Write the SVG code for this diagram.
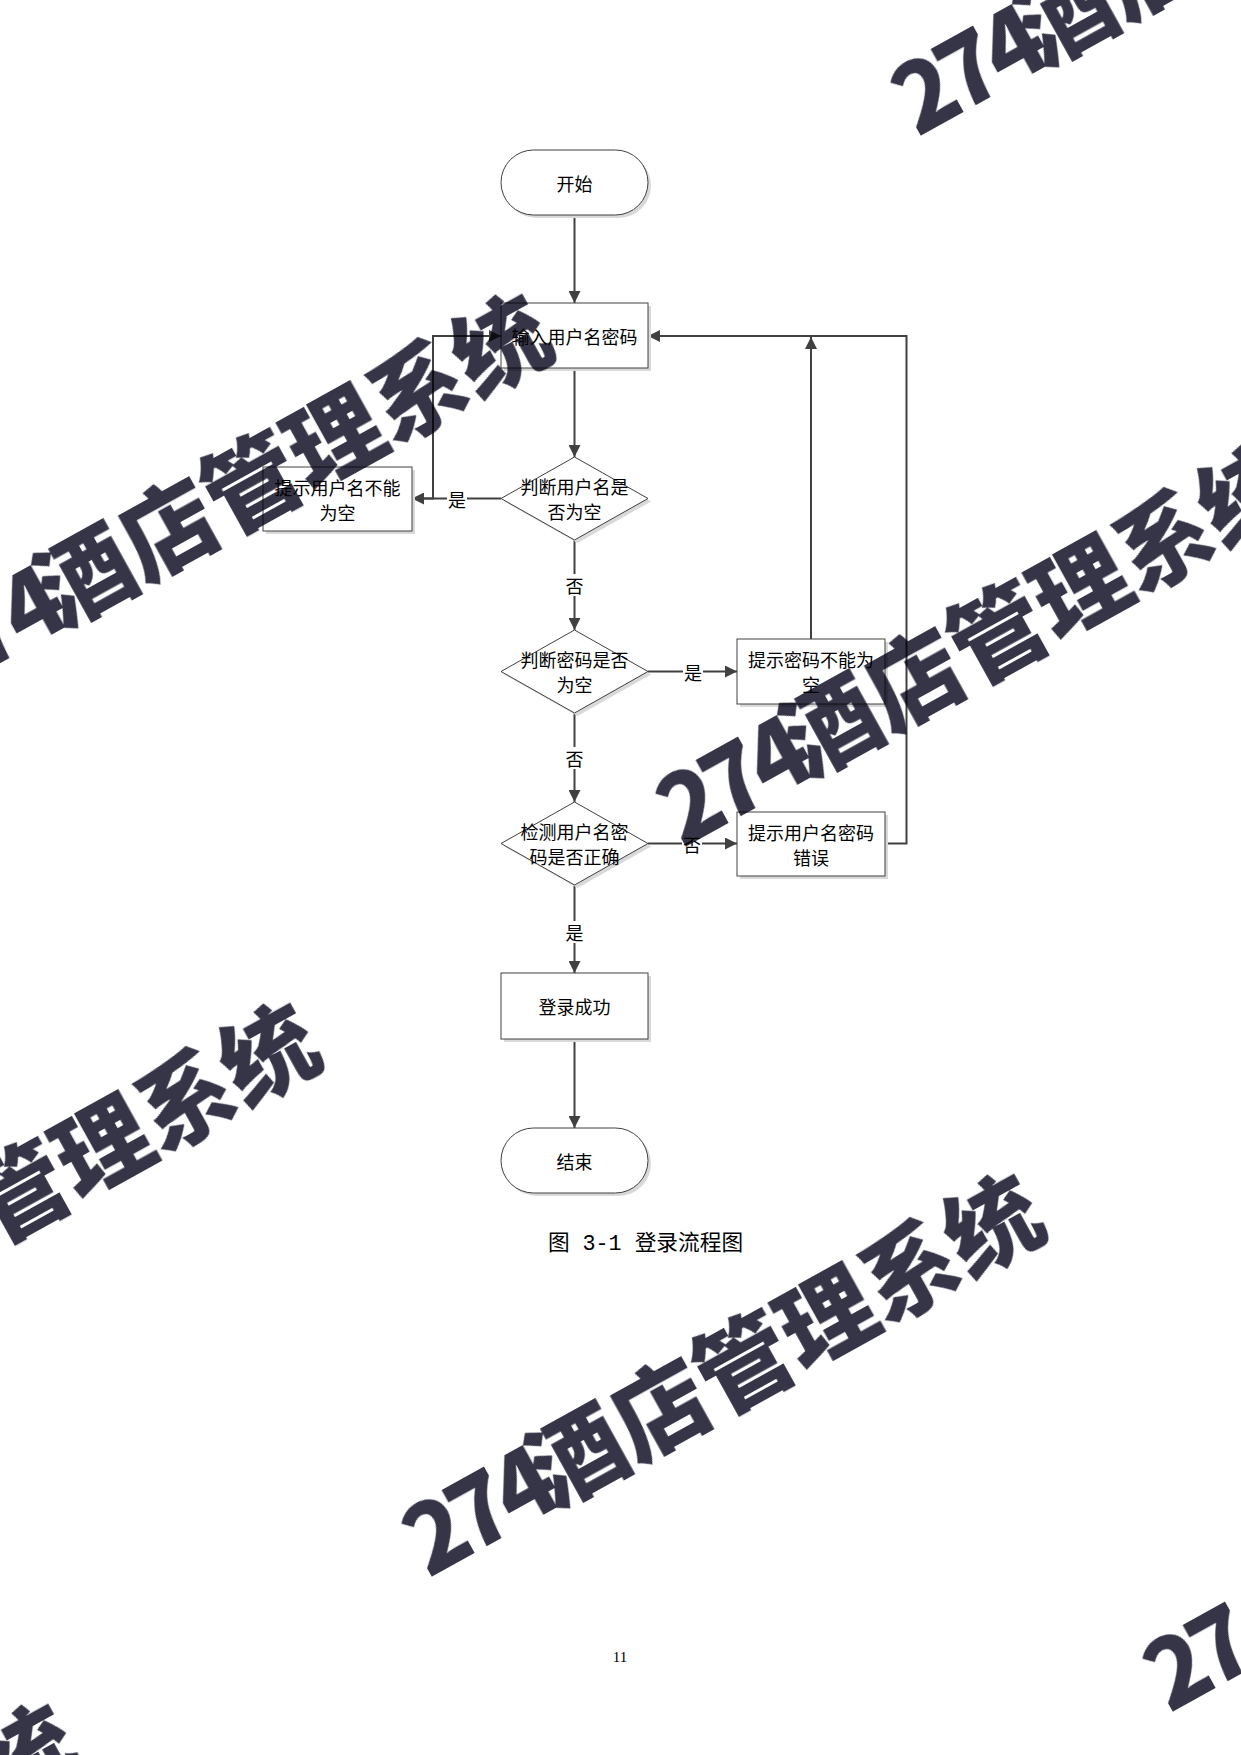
<svg xmlns="http://www.w3.org/2000/svg" width="1241" height="1755" viewBox="0 0 1241 1755">
<style>
.node{fill:#ffffff;stroke:#404040;stroke-width:1}
.shadow{fill:#d9d9d9;stroke:none}
.t{font-family:"Noto Sans CJK SC","Liberation Sans",sans-serif;font-size:18px;fill:#000;text-anchor:middle;dominant-baseline:central}
.conn{fill:none;stroke:#404040;stroke-width:2}
.lblbg{fill:#ffffff}
.wm{font-family:"Noto Sans CJK SC",sans-serif;font-weight:900;font-size:95px;fill:#363548}
.cap{font-family:"Liberation Mono","Noto Sans CJK SC",monospace;font-size:21.7px;fill:#000;text-anchor:middle}
.pg{font-family:"Liberation Serif",serif;font-size:15px;fill:#000;text-anchor:middle}
</style>
<defs>
<marker id="arrow" markerWidth="12" markerHeight="12" refX="12" refY="6" orient="auto" markerUnits="userSpaceOnUse">
<path d="M0,0 L12,6 L0,12 z" fill="#404040"/>
</marker>
</defs>
<rect x="0" y="0" width="1241" height="1755" fill="#ffffff"/>

<g id="connectors">
<path class="conn" d="M574.5,215 V303" marker-end="url(#arrow)"/>
<path class="conn" d="M574.5,368 V457" marker-end="url(#arrow)"/>
<path class="conn" d="M501,498.5 H412" marker-end="url(#arrow)"/>
<path class="conn" d="M412,498.5 H433 V336 H501" marker-end="url(#arrow)"/>
<path class="conn" d="M574.5,540 V630" marker-end="url(#arrow)"/>
<path class="conn" d="M648,671.5 H737" marker-end="url(#arrow)"/>
<path class="conn" d="M811,639 V337" marker-end="url(#arrow)"/>
<path class="conn" d="M574.5,713 V802" marker-end="url(#arrow)"/>
<path class="conn" d="M648,843.5 H737" marker-end="url(#arrow)"/>
<path class="conn" d="M885,843.5 H906.5 V336 H648" marker-end="url(#arrow)"/>
<path class="conn" d="M574.5,885 V973" marker-end="url(#arrow)"/>
<path class="conn" d="M574.5,1039 V1128" marker-end="url(#arrow)"/>
<g id="labels">
<rect class="lblbg" x="447" y="488" width="20" height="21"/><text class="t" x="457" y="498.5">是</text>
<rect class="lblbg" x="564.5" y="574" width="20" height="22"/><text class="t" x="574.5" y="585">否</text>
<rect class="lblbg" x="683" y="661" width="20" height="21"/><text class="t" x="693" y="671.5">是</text>
<rect class="lblbg" x="564.5" y="747" width="20" height="22"/><text class="t" x="574.5" y="758">否</text>
<rect class="lblbg" x="682" y="833" width="20" height="21"/><text class="t" x="692" y="843.5">否</text>
<rect class="lblbg" x="564.5" y="921" width="20" height="22"/><text class="t" x="574.5" y="932">是</text>
</g>
</g>

<g id="start">
<rect class="shadow" x="504" y="153" width="147" height="65" rx="32.5"/>
<rect class="node" x="501" y="150" width="147" height="65" rx="32.5"/>
<text class="t" x="574.5" y="182.5">开始</text>
</g>
<g id="input">
<rect class="shadow" x="504" y="306" width="147" height="65"/>
<rect class="node" x="501" y="303" width="147" height="65"/>
<text class="t" x="574.5" y="336">输入用户名密码</text>
</g>
<g id="check-user">
<polygon class="shadow" points="577.5,460 651,501.5 577.5,543 504,501.5"/>
<polygon class="node" points="574.5,457 648,498.5 574.5,540 501,498.5"/>
<text class="t" x="574.5" y="486">判断用户名是</text>
<text class="t" x="574.5" y="511">否为空</text>
</g>
<g id="user-empty">
<rect class="shadow" x="266" y="470" width="149" height="64"/>
<rect class="node" x="263" y="467" width="149" height="64"/>
<text class="t" x="337.5" y="486.5">提示用户名不能</text>
<text class="t" x="337.5" y="511.5">为空</text>
</g>
<g id="check-pwd">
<polygon class="shadow" points="577.5,633 651,674.5 577.5,716 504,674.5"/>
<polygon class="node" points="574.5,630 648,671.5 574.5,713 501,671.5"/>
<text class="t" x="574.5" y="659">判断密码是否</text>
<text class="t" x="574.5" y="684">为空</text>
</g>
<g id="pwd-empty">
<rect class="shadow" x="740" y="642" width="148" height="65"/>
<rect class="node" x="737" y="639" width="148" height="65"/>
<text class="t" x="811" y="659">提示密码不能为</text>
<text class="t" x="811" y="684">空</text>
</g>
<g id="check-login">
<polygon class="shadow" points="577.5,805 651,846.5 577.5,888 504,846.5"/>
<polygon class="node" points="574.5,802 648,843.5 574.5,885 501,843.5"/>
<text class="t" x="574.5" y="831">检测用户名密</text>
<text class="t" x="574.5" y="856">码是否正确</text>
</g>
<g id="login-error">
<rect class="shadow" x="740" y="815" width="148" height="64"/>
<rect class="node" x="737" y="812" width="148" height="64"/>
<text class="t" x="811" y="831.5">提示用户名密码</text>
<text class="t" x="811" y="856.5">错误</text>
</g>
<g id="success">
<rect class="shadow" x="504" y="976" width="147" height="66"/>
<rect class="node" x="501" y="973" width="147" height="66"/>
<text class="t" x="574.5" y="1006">登录成功</text>
</g>
<g id="end">
<rect class="shadow" x="504" y="1131" width="147" height="65" rx="32.5"/>
<rect class="node" x="501" y="1128" width="147" height="65" rx="32.5"/>
<text class="t" x="574.5" y="1160.5">结束</text>
</g>

<text class="cap" x="645.5" y="1250">图 3-1 登录流程图</text>
<text class="pg" x="620" y="1662">11</text>

<g id="watermarks" style="mix-blend-mode:multiply">
<text class="wm" transform="translate(1066,14) rotate(-29)"><tspan x="-190" y="36" letter-spacing="-8">274</tspan><tspan x="-47.5" y="36">酒店管理系统</tspan></text>
<text class="wm" transform="translate(85,575) rotate(-29)"><tspan x="-190" y="36" letter-spacing="-8">274</tspan><tspan x="-47.5" y="36">酒店管理系统</tspan></text>
<text class="wm" transform="translate(831,725) rotate(-29)"><tspan x="-190" y="36" letter-spacing="-8">274</tspan><tspan x="-47.5" y="36">酒店管理系统</tspan></text>
<text class="wm" transform="translate(-147,1284) rotate(-29)"><tspan x="-190" y="36" letter-spacing="-8">274</tspan><tspan x="-47.5" y="36">酒店管理系统</tspan></text>
<text class="wm" transform="translate(577,1455) rotate(-29)"><tspan x="-190" y="36" letter-spacing="-8">274</tspan><tspan x="-47.5" y="36">酒店管理系统</tspan></text>
<text class="wm" transform="translate(1318,1590) rotate(-29)"><tspan x="-190" y="36" letter-spacing="-8">274</tspan><tspan x="-47.5" y="36">酒店管理系统</tspan></text>
<text class="wm" transform="translate(-389,1985) rotate(-29)"><tspan x="-190" y="36" letter-spacing="-8">274</tspan><tspan x="-47.5" y="36">酒店管理系统</tspan></text>
</g>
</svg>
